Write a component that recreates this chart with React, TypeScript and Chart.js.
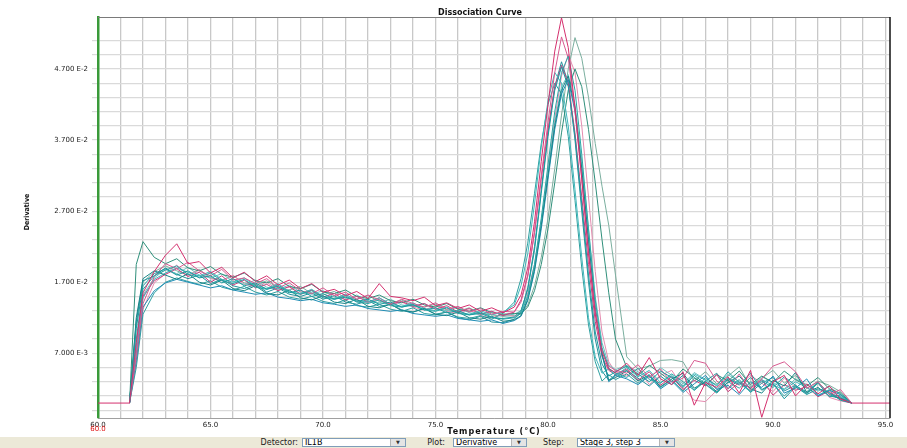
import React, { useEffect, useRef } from "react";
import { Chart, registerables } from "chart.js";

Chart.register(...registerables);

// Temperature (°C) of each reading
const temperatures = [
  60.0, 61.4, 61.7,
  62.0, 62.5, 63.0, 63.5, 64.0, 64.5, 65.0, 65.5, 66.0, 66.5, 67.0, 67.5, 68.0, 68.5, 69.0, 69.5,
  70.0, 70.5, 71.0, 71.5, 72.0, 72.5, 73.0, 73.5, 74.0, 74.5, 75.0, 75.5, 76.0, 76.5, 77.0, 77.5,
  78.0, 78.5,
  78.8, 79.1, 79.4, 79.7, 80.0, 80.3, 80.6, 80.9, 81.2, 81.5, 81.8, 82.1, 82.4, 82.7, 83.0,
  83.5, 84.0, 84.5, 85.0, 85.5, 86.0, 86.5, 87.0, 87.5, 88.0, 88.5, 89.0, 89.5, 90.0, 90.5,
  91.0, 91.5, 92.0, 92.5, 93.0, 93.5,
  95.2,
];

// Derivative values, in units of E-3 (null = no reading for that well)
const wellP1 = [
  0, 0, 8.5,
  15.5, 18.5, 20.8, 22.4, 19.6, 19.9, 18.3, 19.1, 17.6, 18.4, 17.1, 17.9, 16.6, 17.3, 16.1, 16.8, 15.6, 16.0, 15.1, 15.7, 14.7, 16.8, 15.0, 14.8, 14.4, 14.9, 13.7, 14.1, 13.3, 13.8, 12.9, 13.4, 12.7, 13.5,
  15.2, 19.0, 25.5, 34.0, 42.0, 49.5, 54.2, 50.0, 41.5, 31.5, 21.0, 12.5, 7.2, 4.8, 4.3,
  5.6, 3.9, 6.4, 3.4, 2.6, 4.4, -0.3, 2.9, 2.2, 3.7, 1.4, 4.6, -2.0, 3.0, 3.9, 1.0, 2.7, 1.3, 2.4, 0.6, 0,
  0,
];
const wellP2 = [
  null, 0, 6.5,
  14.0, 17.8, 19.6, 18.9, 19.8, 18.6, 17.9, 18.8, 17.3, 17.6, 16.8, 17.5, 16.2, 16.9, 15.8, 15.4, 16.2, 15.1, 15.6, 14.6, 15.2, 14.5, 13.9, 14.6, 14.0, 13.5, 14.1, 13.2, 13.6, 12.8, 13.3, 12.5, 12.9, 12.8,
  14.2, 17.8, 24.0, 32.0, 39.5, 46.5, 51.5, 48.5, 41.0, 31.5, 21.5, 13.0, 7.5, 5.2, 4.6,
  4.2, 5.4, 3.6, 4.8, 2.9, 3.5, 6.0, 5.6, 3.1, 2.0, 4.1, 1.8, 3.4, 5.2, 5.8, 4.4, 2.1, 3.0, 1.2, 1.9, 0,
  null,
];
const wellP3 = [
  null, 0, 5.5,
  13.2, 16.9, 18.2, 19.4, 18.0, 18.7, 17.5, 17.2, 18.0, 16.7, 16.4, 17.0, 15.9, 16.3, 15.4, 15.9, 15.0, 14.7, 15.3, 14.4, 14.1, 14.6, 13.8, 14.2, 13.5, 13.1, 13.7, 12.9, 12.6, 13.1, 12.3, 12.0, 12.5, 12.2,
  13.0, 15.5, 19.5, 25.5, 32.5, 40.0, 46.0, 49.0, 46.5, 39.0, 29.0, 18.5, 10.0, 5.8, 4.4,
  3.8, 4.9, 2.6, 3.9, 4.6, 2.2, 0.4, 0.2, 1.8, 3.3, 2.5, 3.9, 2.8, 1.6, 3.5, 2.2, 1.4, 2.9, 0.8, 0.3, 0,
  null,
];
const wellP4 = [
  null, 0, 7.0,
  15.0, 17.2, 18.1, 18.9, 17.8, 18.4, 17.0, 17.9, 16.6, 17.3, 16.2, 16.7, 15.8, 16.4, 15.3, 15.9, 14.9, 15.4, 14.5, 15.0, 14.2, 14.8, 13.9, 14.3, 13.6, 14.0, 13.2, 13.7, 12.8, 13.3, 12.5, 12.9, 12.3, 12.8,
  14.5, 18.0, 24.0, 31.5, 38.5, 44.5, 47.5, 45.0, 38.0, 29.0, 19.5, 11.5, 6.5, 4.6, 4.0,
  4.8, 3.2, 4.4, 2.5, 3.7, 1.9, 3.2, 2.4, 4.0, 1.6, 2.9, 2.1, 3.3, 1.1, 2.6, 1.8, 2.3, 0.9, 1.7, 0.5, 0,
  null,
];
const wellT1 = [
  null, 0, 10.5,
  16.5, 18.2, 18.9, 18.0, 18.6, 17.6, 17.9, 16.9, 17.5, 16.5, 16.9, 16.0, 16.4, 15.5, 15.9, 15.0, 15.4, 14.6, 14.9, 14.3, 14.6, 13.9, 14.2, 13.5, 13.8, 13.1, 13.4, 12.7, 13.0, 12.4, 12.6, 12.0, 11.9, 12.1,
  13.0, 16.0, 21.5, 29.5, 37.5, 44.0, 47.3, 44.5, 37.5, 28.0, 18.0, 10.0, 5.5, 3.8, 4.4,
  5.2, 4.1, 3.0, 4.5, 3.6, 2.2, 3.9, 2.7, 1.5, 3.4, 2.6, 4.2, 1.9, 2.8, 0.6, 2.3, 1.2, 2.0, 1.5, 0.4, 0,
  null,
];
const wellT2 = [
  null, 0, 9.0,
  16.0, 17.9, 18.7, 19.3, 18.1, 17.7, 18.3, 17.2, 16.8, 17.4, 16.3, 16.0, 16.6, 15.6, 15.3, 15.8, 14.8, 14.6, 15.1, 14.2, 14.0, 14.5, 13.7, 13.5, 13.9, 13.1, 12.9, 13.4, 12.6, 12.4, 12.8, 12.1, 11.8, 12.0,
  12.6, 15.0, 19.5, 26.0, 33.5, 41.0, 46.5, 48.8, 44.0, 35.0, 24.5, 14.5, 7.8, 4.9, 4.2,
  3.6, 4.9, 3.3, 2.8, 4.1, 3.0, 1.8, 3.6, 2.4, 4.4, 2.9, 1.7, 3.1, 2.2, 3.7, 2.5, 1.3, 2.8, 0.9, 1.1, 0,
  null,
];
const wellT3 = [
  null, 0, 12.0,
  17.5, 18.6, 18.0, 17.4, 18.2, 17.0, 16.6, 17.3, 16.1, 15.8, 16.5, 15.4, 15.2, 15.9, 14.8, 14.5, 15.1, 14.2, 14.0, 14.6, 13.6, 13.4, 13.9, 13.0, 12.8, 13.3, 12.5, 12.3, 12.8, 12.0, 11.8, 12.2, 11.5, 11.7,
  12.3, 14.6, 18.8, 25.0, 32.0, 39.0, 44.0, 46.0, 41.5, 33.0, 23.0, 13.5, 7.0, 3.2, 3.6,
  4.5, 3.1, 4.0, 2.3, 3.4, 4.2, 2.1, 3.0, 1.6, 2.9, 3.8, 2.0, 1.4, 3.2, 2.4, 4.3, 1.5, 2.2, 1.0, 0.7, 0,
  null,
];
const wellT4 = [
  null, 0, 6.0,
  13.5, 15.8, 16.9, 17.4, 17.0, 16.6, 16.2, 16.5, 15.9, 15.6, 15.3, 15.5, 14.9, 14.7, 14.4, 14.6, 14.1, 13.9, 13.6, 13.8, 13.3, 13.1, 12.9, 13.1, 12.6, 12.4, 12.2, 12.4, 11.9, 11.7, 11.5, 11.7, 11.2, 11.6,
  12.2, 14.4, 18.5, 24.5, 31.5, 38.5, 43.5, 45.5, 41.0, 32.5, 22.5, 13.0, 6.8, 3.0, 3.9,
  3.4, 2.6, 3.8, 2.0, 3.1, 1.5, 2.7, 3.9, 1.9, 2.5, 1.2, 3.0, 2.2, 3.8, 1.4, 2.1, 3.4, 1.0, 1.8, 1.2, 0,
  null,
];
const wellT5 = [
  null, 0, 7.5,
  14.8, 17.4, 18.3, 19.0, 18.4, 17.9, 18.5, 17.4, 17.0, 17.6, 16.5, 16.1, 16.8, 15.7, 15.4, 16.0, 15.0, 14.7, 15.3, 14.4, 14.2, 14.8, 13.9, 13.6, 14.1, 13.3, 13.0, 13.5, 12.7, 12.5, 13.0, 12.4, 12.8, 13.8,
  16.5, 21.0, 28.0, 36.0, 42.5, 46.5, 45.0, 39.0, 30.0, 20.5, 12.0, 6.5, 4.2, 4.8, 3.9,
  5.0, 3.7, 4.6, 2.9, 3.8, 2.4, 4.1, 3.2, 2.0, 3.5, 2.8, 1.6, 3.3, 2.5, 1.9, 3.0, 2.2, 1.1, 1.9, 0.8, 0,
  null,
];
const wellT6 = [
  null, 0, 11.0,
  17.0, 18.5, 19.3, 18.6, 18.0, 18.8, 17.6, 17.3, 17.9, 16.9, 16.6, 17.2, 16.2, 15.9, 16.4, 15.4, 15.2, 15.7, 14.8, 14.6, 15.1, 14.3, 14.0, 14.5, 13.7, 13.5, 13.9, 13.1, 12.9, 13.4, 12.6, 12.4, 12.2, 12.3,
  12.5, 13.8, 16.5, 20.5, 26.0, 33.0, 40.5, 47.0, 51.4, 48.5, 43.0, 36.5, 30.5, 25.0, 18.0,
  6.5, 4.8, 5.2, 6.0, 6.1, 5.8, 3.1, 4.4, 2.7, 3.8, 5.1, 2.3, 3.5, 4.6, 2.8, 3.9, 2.0, 3.1, 2.5, 1.6, 0,
  null,
];
const wellT7 = [
  null, 0, 19.5,
  22.7, 20.5, 19.6, 20.3, 19.0, 18.6, 19.2, 18.1, 17.7, 18.3, 17.2, 16.9, 17.5, 16.4, 16.1, 16.7, 15.6, 15.4, 15.9, 15.0, 14.7, 15.2, 14.4, 14.1, 14.6, 13.8, 13.5, 14.0, 13.2, 12.9, 13.4, 12.7, 12.5, 12.6,
  12.6, 13.5, 15.8, 19.5, 24.5, 31.0, 38.0, 44.0, 47.0, 44.5, 38.5, 31.0, 23.0, 15.5, 9.0,
  5.0, 3.9, 5.3, 4.2, 3.0, 4.8, 3.6, 2.5, 4.0, 3.1, 4.5, 2.6, 3.8, 2.9, 4.5, 3.3, 2.4, 3.6, 2.0, 1.4, 0,
  null,
];
const wellT8 = [
  null, 0, 5.0,
  12.5, 15.5, 17.0, 17.6, 17.1, 16.7, 17.2, 16.3, 15.9, 16.4, 15.6, 15.2, 15.7, 14.9, 14.6, 15.0, 14.3, 14.0, 14.5, 13.7, 13.5, 13.9, 13.2, 12.9, 13.4, 12.6, 12.4, 12.8, 12.1, 11.9, 12.3, 11.8, 12.6, 14.2,
  17.5, 22.5, 29.5, 36.5, 42.0, 45.0, 43.5, 37.5, 28.5, 19.0, 11.0, 5.8, 3.1, 4.0, 3.3,
  4.1, 2.8, 3.9, 2.2, 3.3, 1.7, 3.5, 2.6, 1.4, 3.0, 2.1, 3.6, 1.8, 2.7, 1.0, 2.4, 1.6, 2.9, 1.3, 0.9, 0,
  null,
];
const wellT9 = [
  null, 0, 8.0,
  15.2, 17.6, 18.8, 18.2, 19.1, 18.0, 17.6, 18.2, 17.1, 16.7, 17.3, 16.3, 16.0, 16.6, 15.6, 15.3, 15.8, 14.9, 14.6, 15.2, 14.3, 14.1, 14.6, 13.8, 13.6, 14.0, 13.2, 13.0, 13.5, 12.7, 12.5, 12.9, 12.3, 12.5,
  13.0, 15.2, 19.2, 25.5, 32.5, 39.5, 44.5, 46.2, 42.0, 34.0, 24.5, 15.0, 8.5, 5.4, 4.7,
  5.3, 4.4, 3.5, 5.0, 3.9, 2.7, 4.3, 3.3, 2.6, 4.0, 3.0, 2.2, 3.7, 2.9, 2.0, 3.4, 2.6, 1.7, 2.3, 1.2, 0,
  null,
];
const wellT10 = [
  null, 0, 11.5,
  17.2, 17.9, 19.0, 18.1, 17.5, 18.0, 16.8, 17.4, 16.5, 16.1, 16.7, 15.6, 16.2, 15.3, 15.0, 15.5, 14.6, 15.1, 14.2, 13.9, 14.4, 13.6, 13.9, 13.1, 12.8, 13.3, 12.5, 12.8, 12.0, 11.7, 12.2, 11.4, 11.3, 11.8,
  12.8, 16.2, 22.0, 30.0, 38.0, 44.5, 48.0, 45.0, 37.0, 27.0, 17.0, 9.0, 4.5, 3.2, 4.0,
  4.6, 3.5, 2.4, 3.8, 2.6, 3.9, 1.8, 3.1, 4.2, 2.0, 3.3, 1.5, 2.8, 3.6, 1.7, 2.5, 1.4, 3.0, 1.2, 0.6, 0,
  null,
];

// Series in drawing order (first = on top), with their colours
const seriesValues = [wellP1, wellT1, wellT2, wellP2, wellT3, wellT4, wellT5, wellP4, wellT7, wellT8, wellT9, wellT10, wellP3, wellT6];
const seriesColors = [
  "#d4306e", "#1b9a9f", "#2aa6a6", "#d85a90", "#178587", "#1f8db5", "#40b8bc",
  "#cc3d7d", "#2f8f7a", "#2fa0a0", "#6cc0c0", "#23919a", "#e58cb0", "#7aae9e",
];

// Axis ticks
const xGridValues = [60, 61, 62, 63, 64, 65, 66, 67, 68, 69, 70, 71, 72, 73, 74, 75, 76, 77, 78, 79, 80, 81, 82, 83, 84, 85, 86, 87, 88, 89, 90, 91, 92, 93, 94, 95];
const xLabelValues = [60, 65, 70, 75, 80, 85, 90, 95];
const xLabels = ["60.0", "65.0", "70.0", "75.0", "80.0", "85.0", "90.0", "95.0"];
const yGridValues = [-0.001, 0.001, 0.003, 0.005, 0.007, 0.009, 0.011, 0.013, 0.015, 0.017, 0.019, 0.021, 0.023, 0.025, 0.027, 0.029, 0.031, 0.033, 0.035, 0.037, 0.039, 0.041, 0.043, 0.045, 0.047, 0.049, 0.051];
const yLabelValues = [0.007, 0.017, 0.027, 0.037, 0.047];
const yLabels = ["7.000 E-3", "1.700 E-2", "2.700 E-2", "3.700 E-2", "4.700 E-2"];

const TITLE = "Dissociation Curve";
const X_TITLE = "Temperature (°C)";
const Y_TITLE = "Derivative";

const decorations = {
  id: "decorations",
  afterDraw(chart: any) {
    const { ctx, chartArea } = chart;
    const { left, right, top, bottom } = chartArea;
    ctx.save();
    // top border
    ctx.strokeStyle = "#7a7a7a";
    ctx.lineWidth = 1;
    ctx.beginPath();
    ctx.moveTo(left, top + 0.5);
    ctx.lineTo(right, top + 0.5);
    ctx.stroke();
    // right border
    ctx.strokeStyle = "#111111";
    ctx.lineWidth = 1.5;
    ctx.beginPath();
    ctx.moveTo(right, top);
    ctx.lineTo(right, bottom);
    ctx.stroke();

    // red start label
    ctx.fillStyle = "#e01010";
    ctx.font = "7px 'DejaVu Sans', sans-serif";
    ctx.textAlign = "center";
    ctx.textBaseline = "middle";
    ctx.fillText(xLabels[0], left, 429);

    // title
    ctx.fillStyle = "#111111";
    ctx.font = "bold 8px 'DejaVu Sans', sans-serif";
    ctx.fillText(TITLE, 480, 13);

    // x title
    (ctx as any).letterSpacing = "1px";
    ctx.font = "bold 8px 'DejaVu Sans', sans-serif";
    ctx.fillText(X_TITLE, (left + right) / 2, 432);
    (ctx as any).letterSpacing = "0px";

    // y title
    ctx.translate(27, 212);
    ctx.rotate(-Math.PI / 2);
    ctx.font = "bold 7px 'DejaVu Sans Condensed', 'DejaVu Sans', sans-serif";
    ctx.fillText(Y_TITLE, 0, 0);
    ctx.restore();
  },
};

function Combo({ left, width, text }: { left: number; width: number; text: string }) {
  return (
    <div
      style={{
        position: "absolute",
        left,
        top: 1,
        width,
        height: 9,
        background: "#ffffff",
        border: "1px solid #7f9db9",
        boxSizing: "border-box",
        fontSize: 8,
        lineHeight: "8px",
        paddingLeft: 2,
        color: "#000",
        overflow: "hidden",
        whiteSpace: "nowrap",
      }}
    >
      {text}
      <div
        style={{
          position: "absolute",
          right: 0,
          top: 0,
          width: 14,
          height: 7,
          background: "#e4e4e4",
          borderLeft: "1px solid #b5b5b5",
          fontSize: 5,
          lineHeight: "7px",
          textAlign: "center",
          color: "#333",
        }}
      >
        ▼
      </div>
    </div>
  );
}

function Label({ left, width, text }: { left: number; width: number; text: string }) {
  return (
    <div
      style={{
        position: "absolute",
        left,
        top: 1,
        width,
        height: 9,
        fontSize: 8,
        lineHeight: "9px",
        textAlign: "right",
        color: "#222",
        whiteSpace: "nowrap",
      }}
    >
      {text}
    </div>
  );
}

export default function App() {
  const canvasRef = useRef<HTMLCanvasElement | null>(null);

  useEffect(() => {
    if (!canvasRef.current) return;
    const datasets = seriesValues.map((vals, si) => ({
      label: `Well ${si + 1}`,
      data: temperatures.map((t, i) => ({ x: t, y: vals[i] === null ? null : (vals[i] as number) / 1000 })),
      borderColor: seriesColors[si],
      backgroundColor: seriesColors[si],
      borderWidth: 1,
      pointRadius: 0,
      tension: 0,
      fill: false,
      spanGaps: false,
    }));

    const chart = new Chart(canvasRef.current, {
      type: "line",
      data: { datasets },
      plugins: [decorations],
      options: {
        animation: false,
        responsive: false,
        maintainAspectRatio: false,
        layout: { padding: { top: 17, right: 17, left: 0, bottom: 0 } },
        plugins: {
          legend: { display: false },
          title: { display: false },
          tooltip: { enabled: false },
        },
        scales: {
          x: {
            type: "linear",
            min: 60,
            max: 95.2,
            afterFit: (scale: any) => {
              scale.height = 30;
            },
            afterBuildTicks: (scale: any) => {
              scale.ticks = xGridValues.map((v) => ({ value: v }));
            },
            grid: { color: "#c8c8c8", lineWidth: 1.3, drawTicks: false },
            border: { display: true, color: "#a0a0a0", width: 1 },
            ticks: {
              autoSkip: false,
              maxRotation: 0,
              padding: 3,
              color: "#222",
              font: { family: "'DejaVu Sans', sans-serif", size: 7 },
              callback: (value: any) => {
                const idx = xLabelValues.findIndex((v) => Math.abs(v - value) < 1e-6);
                return idx >= 0 ? xLabels[idx] : "";
              },
            },
          },
          y: {
            type: "linear",
            min: -0.0021,
            max: 0.0543,
            afterFit: (scale: any) => {
              scale.width = 98;
            },
            afterBuildTicks: (scale: any) => {
              scale.ticks = yGridValues.map((v) => ({ value: v }));
            },
            grid: { color: "#dadada", lineWidth: 1.2, drawTicks: true, tickLength: 6 },
            border: { display: true, color: "#3a9a3a", width: 2.5 },
            ticks: {
              autoSkip: false,
              padding: 4,
              color: "#222",
              font: { family: "'DejaVu Sans', sans-serif", size: 7 },
              callback: (value: any) => {
                const idx = yLabelValues.findIndex((v) => Math.abs(v - value) < 1e-6);
                return idx >= 0 ? yLabels[idx] : "";
              },
            },
          },
        },
      } as any,
    });
    return () => chart.destroy();
  }, []);

  return (
    <div
      style={{
        position: "fixed",
        left: 0,
        top: 0,
        width: 907,
        height: 448,
        background: "#ffffff",
        overflow: "hidden",
        fontFamily: "'DejaVu Sans', sans-serif",
      }}
    >
      <canvas ref={canvasRef} width={907} height={448} style={{ display: "block", width: 907, height: 448 }} />
      <div
        style={{
          position: "absolute",
          left: 0,
          top: 437,
          width: 907,
          height: 11,
          background: "#ece9d8",
        }}
      >
        <Label left={240} width={58} text="Detector:" />
        <Combo left={302} width={104} text="IL1B" />
        <Label left={410} width={35} text="Plot:" />
        <Combo left={453} width={74} text="Derivative" />
        <Label left={530} width={34} text="Step:" />
        <Combo left={577} width={98} text="Stage 3, step 3" />
      </div>
    </div>
  );
}
